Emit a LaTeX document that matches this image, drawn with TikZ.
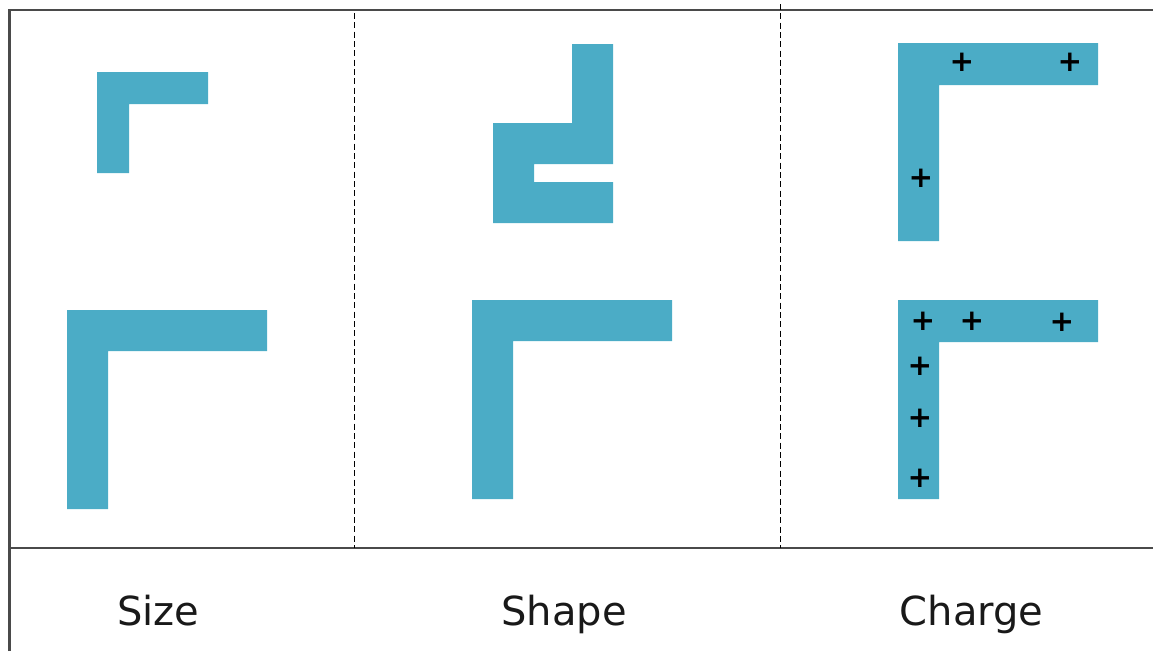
\documentclass[tikz,border=0pt]{standalone}
\usepackage{fontspec}
\setmainfont{DejaVu Sans}
\definecolor{aqua}{HTML}{4BACC6}
\definecolor{rule}{HTML}{4A4A4A}
\begin{document}
\begin{tikzpicture}[x=0.75pt,y=-0.75pt,
  frame/.style={draw=rule,line width=2.2pt*0.75},
  sep/.style={draw=black,line width=1.5pt*0.75,dash pattern=on 4.5pt off 2.5pt},
  piece/.style={fill=aqua,draw=none},
  lbl/.style={anchor=base,inner sep=0pt,font=\fontsize{30}{36}\selectfont,text=black!90},
  chg/.style={inner sep=0pt,font=\bfseries\fontsize{22}{26}\selectfont}]
\useasboundingbox (0,0) rectangle (1153,651);
% frame
\draw[frame] (9.5,651) -- (9.5,10) -- (1153,10);
\draw[frame] (9.5,548) -- (1153,548);
\draw[sep] (354.5,13) -- (354.5,548);
\draw[sep] (780.3,4) -- (780.3,548);
% Size
\fill[piece] (97,72) -- (208,72) -- (208,104) -- (129,104) -- (129,173) -- (97,173) -- cycle;
\fill[piece] (67,310) -- (267,310) -- (267,351) -- (108,351) -- (108,509) -- (67,509) -- cycle;
% Shape
\fill[piece] (572,44) -- (613,44) -- (613,164) -- (534,164) -- (534,182) -- (613,182) -- (613,223) -- (493,223) -- (493,123) -- (572,123) -- cycle;
\fill[piece] (472,300) -- (672,300) -- (672,341) -- (513,341) -- (513,499) -- (472,499) -- cycle;
% Charge
\fill[piece] (898,43) -- (1098,43) -- (1098,85) -- (939,85) -- (939,241) -- (898,241) -- cycle;
\fill[piece] (898,300) -- (1098,300) -- (1098,342) -- (939,342) -- (939,499) -- (898,499) -- cycle;
\node[chg] (p1) at (962,62) {+};
\node[chg] (p2) at (1070,62) {+};
\node[chg] (p3) at (921,178) {+};
\node[chg] (q1) at (923,321) {+};
\node[chg] (q2) at (972,321) {+};
\node[chg] (q3) at (1062,322) {+};
\node[chg] (q4) at (920,366) {+};
\node[chg] (q5) at (920,418) {+};
\node[chg] (q6) at (920,478) {+};
% labels
\node[lbl] (size) at (158.5,625.5) {Size};
\node[lbl] (shape) at (564,625.5) {Shape};
\node[lbl] (charge) at (971.5,625.5) {Charge};
\end{tikzpicture}
\end{document}
